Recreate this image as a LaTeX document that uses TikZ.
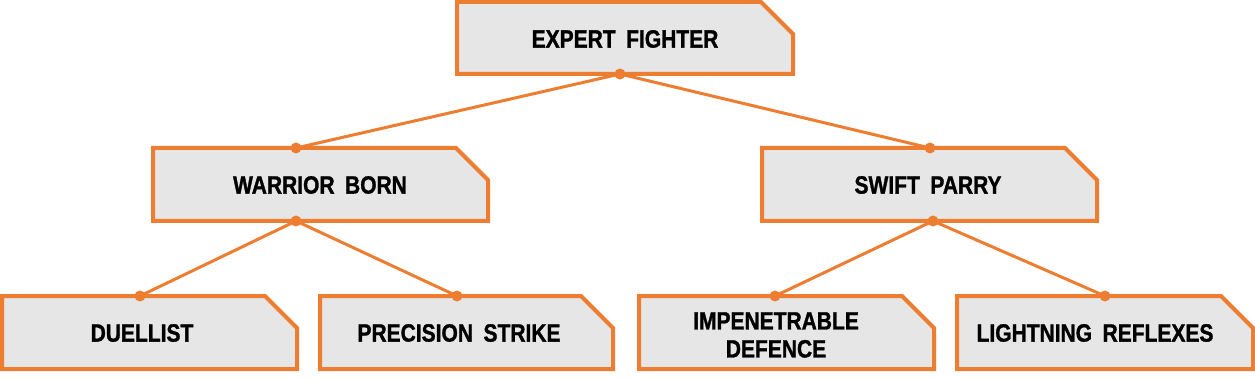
\documentclass[tikz,border=0pt]{standalone}
\usepackage{fontspec}
\setmainfont{Liberation Sans}[FakeStretch=0.84,FakeBold=1.2,WordSpace=1.8]
\definecolor{orng}{HTML}{ED7D31}
\definecolor{boxgray}{HTML}{E6E6E6}
\tikzset{
  boxline/.style={draw=orng, fill=boxgray, line width=4pt, line join=miter},
  conn/.style={draw=orng, line width=3pt},
  dot/.style={fill=orng},
  lbl/.style={font=\fontsize{25}{28}\selectfont\bfseries, text=black, align=center, inner sep=0pt}
}
\newcommand{\cutbox}[5]{% name, x1, y1, x2, y2
  \coordinate (#1-sw) at (#2,#5);
  \coordinate (#1-nw) at (#2,#3);
  \coordinate (#1-nc) at (#4-32,#3);
  \coordinate (#1-ec) at (#4,#3+32);
  \coordinate (#1-se) at (#4,#5);
  \path[boxline] (#1-sw) -- (#1-nw) -- (#1-nc) -- (#1-ec) -- (#1-se) -- cycle;
}
\begin{document}
\begin{tikzpicture}[x=1pt,y=-1pt]
\path[use as bounding box] (0,0) rectangle (1255,379);
% anchor coordinates for connectors
\coordinate (efb) at (620,74);
\coordinate (wbt) at (296,148);
\coordinate (wbb) at (296,221);
\coordinate (spt) at (930,148);
\coordinate (spb) at (933,221);
\coordinate (dut) at (140,296);
\coordinate (pst) at (457,296);
\coordinate (imt) at (775,296);
\coordinate (lrt) at (1105,296);
% connectors
\draw[conn] (efb) -- (wbt);
\draw[conn] (efb) -- (spt);
\draw[conn] (wbb) -- (dut);
\draw[conn] (wbb) -- (pst);
\draw[conn] (spb) -- (imt);
\draw[conn] (spb) -- (lrt);
% boxes
\cutbox{ef}{457}{2}{793}{74}
\cutbox{wb}{153}{148}{488}{221}
\cutbox{sp}{762}{148}{1097}{221}
\cutbox{du}{2}{296}{297}{369}
\cutbox{ps}{320}{296}{613}{369}
\cutbox{im}{639}{296}{934}{369}
\cutbox{lr}{957}{296}{1253}{369}
% dots
\foreach \c in {efb,wbt,wbb,spt,spb,dut,pst,imt,lrt}
  \fill[dot] (\c) circle (5.5);
% labels
\node[lbl] (efl) at (625,39) {EXPERT FIGHTER};
\node[lbl] (wbl) at (320,185) {WARRIOR BORN};
\node[lbl] (spl) at (928,185) {SWIFT PARRY};
\node[lbl] (dul) at (142,333) {DUELLIST};
\node[lbl] (psl) at (459,333) {PRECISION STRIKE};
\node[lbl] (iml) at (776,335) {IMPENETRABLE\\DEFENCE};
\node[lbl] (lrl) at (1095,333) {LIGHTNING REFLEXES};
\end{tikzpicture}
\end{document}
